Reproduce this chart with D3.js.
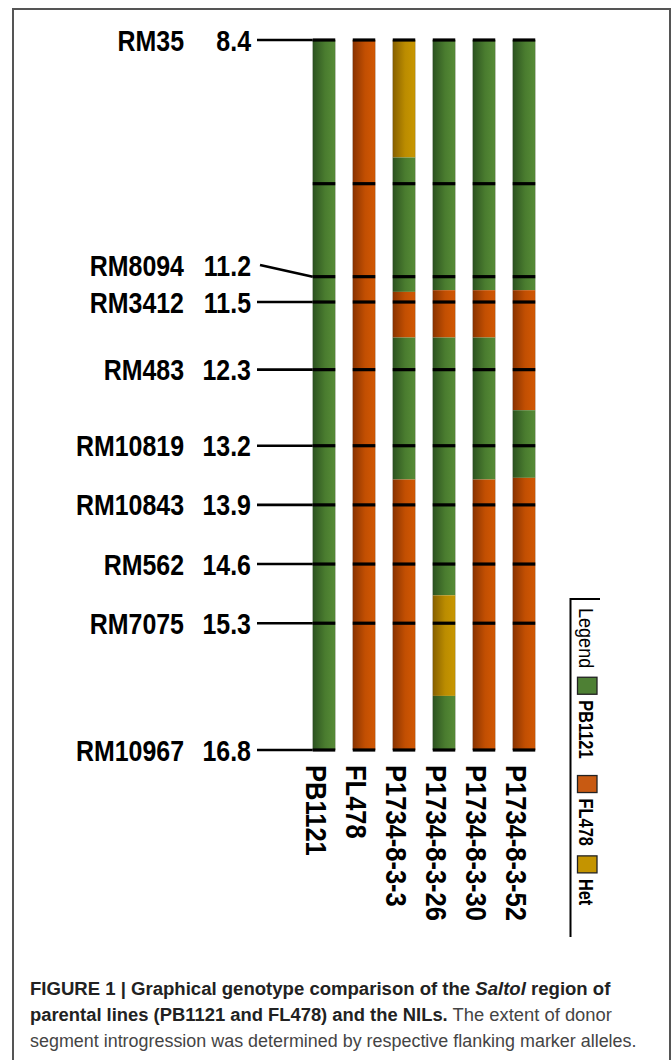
<!DOCTYPE html>
<html>
<head>
<meta charset="utf-8">
<script src="https://cdn.jsdelivr.net/npm/d3@7"></script>
<style>
  html, body { margin: 0; padding: 0; background: #fff; }
  svg { display: block; }
  text { font-family: "Liberation Sans", Arial, sans-serif; }
</style>
</head>
<body>
<div id="chart"></div>
<script>
// marker names (empty = unlabeled marker) and their map positions in cM
var markerNames = ["RM35", "", "RM8094", "RM3412", "RM483", "RM10819", "RM10843", "RM562", "RM7075", "RM10967"];
var markerPos = [8.4, 10.1, 11.2, 11.5, 12.3, 13.2, 13.9, 14.6, 15.3, 16.8];

// genotypes shown as columns
var lines = ["PB1121", "FL478", "P1734-8-3-3", "P1734-8-3-26", "P1734-8-3-30", "P1734-8-3-52"];

// allele classes (legend)
var alleles = ["PB1121", "FL478", "Het"];

// segments per line: [start cM, end cM, allele]
var segPB1121 = [[8.4, 16.8, "PB1121"]];
var segFL478 = [[8.4, 16.8, "FL478"]];
var seg3 = [[8.4, 9.79, "Het"], [9.79, 11.38, "PB1121"], [11.38, 11.92, "FL478"], [11.92, 13.6, "PB1121"], [13.6, 16.8, "FL478"]];
var seg26 = [[8.4, 11.36, "PB1121"], [11.36, 11.92, "FL478"], [11.92, 14.97, "PB1121"], [14.97, 16.16, "Het"], [16.16, 16.8, "PB1121"]];
var seg30 = [[8.4, 11.36, "PB1121"], [11.36, 11.92, "FL478"], [11.92, 13.6, "PB1121"], [13.6, 16.8, "FL478"]];
var seg52 = [[8.4, 11.36, "PB1121"], [11.36, 12.78, "FL478"], [12.78, 13.58, "PB1121"], [13.58, 16.8, "FL478"]];
var segments = [segPB1121, segFL478, seg3, seg26, seg30, seg52];

var W = 672, H = 1060;
var svg = d3.select("#chart").append("svg")
  .attr("width", W)
  .attr("height", H);

var defs = svg.append("defs");

// left dark -> right light, like the shaded bars in the figure
var gradColors = {
  "PB1121": ["#2c5320", "#4a7c2f", "#578c37"],
  "FL478": ["#8a3300", "#c24f02", "#d25803"],
  "Het": ["#876000", "#bb8c00", "#c99700"]
};
var swatchColors = {"PB1121": "#4e8034", "FL478": "#c85a12", "Het": "#c49400"};

alleles.forEach(function(a, i){
  var g = defs.append("linearGradient")
    .attr("id", "grad" + i)
    .attr("x1", "0%").attr("x2", "100%")
    .attr("y1", "0%").attr("y2", "0%");
  g.append("stop").attr("offset", "0%").attr("stop-color", gradColors[a][0]);
  g.append("stop").attr("offset", "55%").attr("stop-color", gradColors[a][1]);
  g.append("stop").attr("offset", "100%").attr("stop-color", gradColors[a][2]);
});

// frame around the figure
svg.append("path")
  .attr("d", "M13,1060V9H670V1060")
  .attr("fill", "none")
  .attr("stroke", "#555")
  .attr("stroke-width", 2);

var y = d3.scaleLinear().domain([8.4, 16.8]).range([40, 750]);
var x = d3.scalePoint().domain(lines).range([324, 524]);
var bw = 22.5;

//-------Bars
lines.forEach(function(name, li){
  var cx = x(name);
  svg.append("g")
    .selectAll("rect")
    .data(segments[li])
    .enter().append("rect")
    .attr("x", cx - bw / 2)
    .attr("y", function(d){ return y(d[0]); })
    .attr("width", bw)
    .attr("height", function(d){ return y(d[1]) - y(d[0]); })
    .attr("fill", function(d){ return "url(#grad" + alleles.indexOf(d[2]) + ")"; });
  // faint outline
  svg.append("rect")
    .attr("x", cx - bw / 2)
    .attr("y", y(8.4))
    .attr("width", bw)
    .attr("height", y(16.8) - y(8.4))
    .attr("fill", "none")
    .attr("stroke", "rgba(0,0,0,0.18)")
    .attr("stroke-width", 0.8);
  // marker ticks
  svg.append("g")
    .selectAll("rect")
    .data(markerPos)
    .enter().append("rect")
    .attr("x", cx - bw / 2)
    .attr("y", function(d){ return y(d) - 1.6; })
    .attr("width", bw)
    .attr("height", 3.2)
    .attr("fill", "#000");
});

//-------Marker labels on the left
// push crowded labels upward so they don't collide
var labelY = markerPos.map(function(d){ return y(d); });
var nextY = Infinity;
for (var i = markerPos.length - 1; i >= 0; i--) {
  if (markerNames[i] === "") continue;
  labelY[i] = Math.min(labelY[i], nextY - 37);
  nextY = labelY[i];
}

var fmt = d3.format(".1f");
var barLeft = x(lines[0]) - bw / 2;

markerPos.forEach(function(d, i){
  if (markerNames[i] === "") return;
  var ly = labelY[i];
  svg.append("path")
    .attr("d", "M" + (ly === y(d) ? 257 : 260) + "," + ly + "L" + barLeft + "," + y(d))
    .attr("stroke", "#000")
    .attr("stroke-width", 2.6)
    .attr("fill", "none");
  svg.append("text")
    .attr("transform", "translate(184," + (ly + 10.5) + ") scale(0.86,1)")
    .attr("text-anchor", "end")
    .attr("font-size", 29)
    .attr("font-weight", "bold")
    .attr("fill", "#000")
    .text(markerNames[i]);
  svg.append("text")
    .attr("transform", "translate(251," + (ly + 10.5) + ") scale(0.86,1)")
    .attr("text-anchor", "end")
    .attr("font-size", 29)
    .attr("font-weight", "bold")
    .attr("fill", "#000")
    .text(fmt(d));
});

//-------Column labels (rotated)
lines.forEach(function(name){
  svg.append("text")
    .attr("transform", "translate(" + (x(name) - 18) + ",765) rotate(90) scale(0.88,1)")
    .attr("font-size", 29)
    .attr("font-weight", "bold")
    .attr("fill", "#000")
    .text(name);
});

//-------Legend
var lg = svg.append("g");
lg.append("path")
  .attr("d", "M600,599H570.5V937")
  .attr("fill", "none")
  .attr("stroke", "#000")
  .attr("stroke-width", 2);

var cursor = 608;
var legendTitle = lg.append("text")
  .attr("transform", "translate(578.5," + cursor + ") rotate(90) scale(0.86,1)")
  .attr("font-size", 21)
  .attr("fill", "#000")
  .text("Legend");
cursor += legendTitle.node().getComputedTextLength() * 0.86 + 9;

var gaps = [17, 10, 0];
alleles.forEach(function(a, i){
  lg.append("rect")
    .attr("x", 577.5)
    .attr("y", cursor)
    .attr("width", 19.5)
    .attr("height", 17)
    .attr("fill", swatchColors[a])
    .attr("stroke", "#222")
    .attr("stroke-width", 1.3);
  cursor += 17 + 6;
  var t = lg.append("text")
    .attr("transform", "translate(578.5," + cursor + ") rotate(90) scale(0.78,1)")
    .attr("font-size", 21)
    .attr("font-weight", "bold")
    .attr("fill", "#000")
    .text(a);
  cursor += t.node().getComputedTextLength() * 0.78 + gaps[i];
});

//-------Caption
var caption = [
  [{t: "FIGURE 1 | Graphical genotype comparison of the ", b: true}, {t: "Saltol", b: true, i: true}, {t: " region of", b: true}],
  [{t: "parental lines (PB1121 and FL478) and the NILs.", b: true}, {t: " The extent of donor", b: false}],
  [{t: "segment introgression was determined by respective flanking marker alleles.", b: false}]
];
var capWidths = [581, 582, 607];
caption.forEach(function(parts, li){
  var t = svg.append("text")
    .attr("font-size", 18.5)
    .attr("font-family", "'Liberation Sans', Arial, sans-serif");
  parts.forEach(function(p){
    t.append("tspan")
      .attr("font-weight", p.b ? "bold" : "normal")
      .attr("font-style", p.i ? "italic" : "normal")
      .attr("fill", p.b ? "#222" : "#444")
      .text(p.t);
  });
  var len = t.node().getComputedTextLength();
  t.attr("transform", "translate(30," + (995 + li * 26) + ") scale(" + (capWidths[li] / len) + ",1)");
});
</script>
</body>
</html>
